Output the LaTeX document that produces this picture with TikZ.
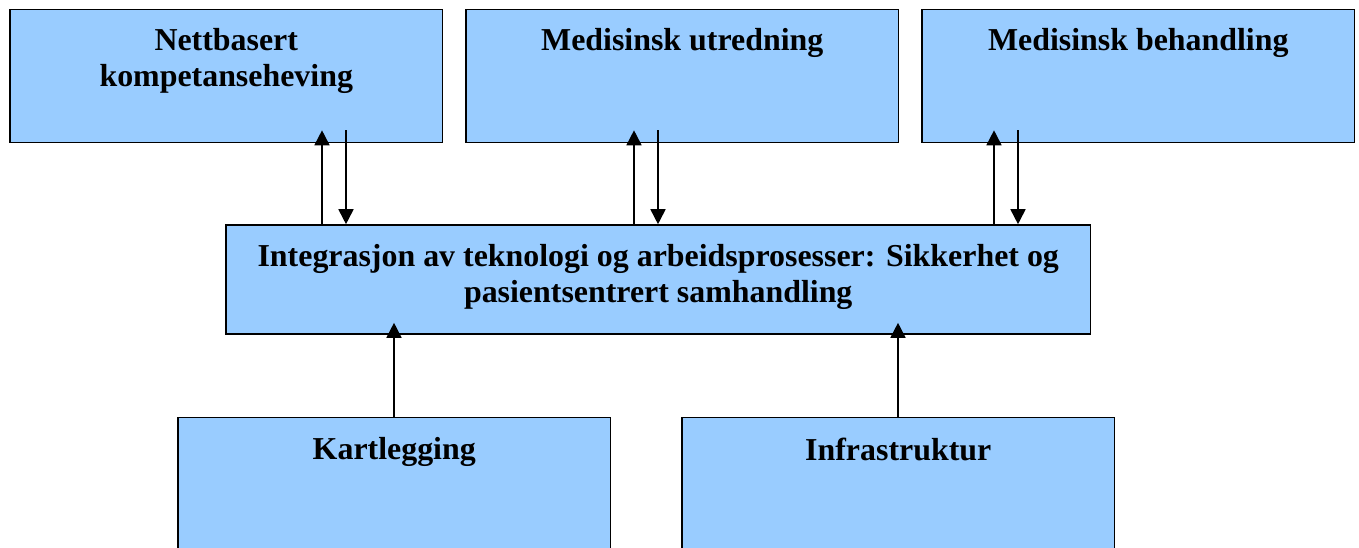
\documentclass[tikz,border=0pt]{standalone}
\usepackage{fontspec}
\setmainfont{Liberation Serif}
\usetikzlibrary{arrows.meta,calc}
\definecolor{boxblue}{HTML}{99CCFF}
\tikzset{
  box/.style={draw=black, fill=boxblue, line width=1.6pt, inner sep=0pt, minimum height=133pt, minimum width=432.5pt},
  lbl/.style={anchor=north, inner sep=0pt, align=center, font=\fontsize{31.9}{36}\selectfont\bfseries},
  arr/.style={line width=1.7pt, -{Triangle[length=15pt,width=15pt]}},
}
\begin{document}
\begin{tikzpicture}[x=1pt,y=-1pt]
\useasboundingbox (0,0) rectangle (1359,547);
\clip (0,0) rectangle (1359,547);
\fill[white] (0,0) rectangle (1359,547);
% boxes
\node[box] (tl) at (226.25,76) {};
\node[box] (tm) at (682.25,76) {};
\node[box] (tr) at (1138.25,76) {};
\node[box, minimum width=864.5pt, minimum height=109pt] (mid) at (658.25,279.5) {};
\node[box] (bl) at (394.25,483.8) {};
\node[box] (br) at (898.25,483.8) {};
% labels
\node[lbl] (tlt) at ($(tl.north)+(0,19)$) {Nettbasert\\kompetanseheving};
\node[lbl] (tmt) at ($(tm.north)+(0,19)$) {Medisinsk utredning};
\node[lbl] (trt) at ($(tr.north)+(0,19)$) {Medisinsk behandling};
\node[lbl] (midt) at ($(mid.north)+(0,20)$) {Integrasjon av teknologi og arbeidsprosesser: Sikkerhet og\\pasientsentrert samhandling};
\node[lbl] (blt) at ($(bl.north)+(0,21)$) {Kartlegging};
\node[lbl] (brt) at ($(br.north)+(0,21)$) {Infrastruktur};
% arrow x positions
\coordinate (a1) at (322,0);
\coordinate (a2) at (346,0);
\coordinate (b1) at (634,0);
\coordinate (b2) at (658,0);
\coordinate (c1) at (994,0);
\coordinate (c2) at (1018,0);
\coordinate (d1) at (394,0);
\coordinate (d2) at (898,0);
% arrows
\draw[arr, shorten >=-13pt] (mid.north -| a1) -- (tl.south -| a1);
\draw[arr, shorten <=-13pt] (tl.south -| a2) -- (mid.north -| a2);
\draw[arr, shorten >=-13pt] (mid.north -| b1) -- (tm.south -| b1);
\draw[arr, shorten <=-13pt] (tm.south -| b2) -- (mid.north -| b2);
\draw[arr, shorten >=-13pt] (mid.north -| c1) -- (tr.south -| c1);
\draw[arr, shorten <=-13pt] (tr.south -| c2) -- (mid.north -| c2);
\draw[arr, shorten >=-12pt] (bl.north -| d1) -- (mid.south -| d1);
\draw[arr, shorten >=-12pt] (br.north -| d2) -- (mid.south -| d2);
\end{tikzpicture}
\end{document}
